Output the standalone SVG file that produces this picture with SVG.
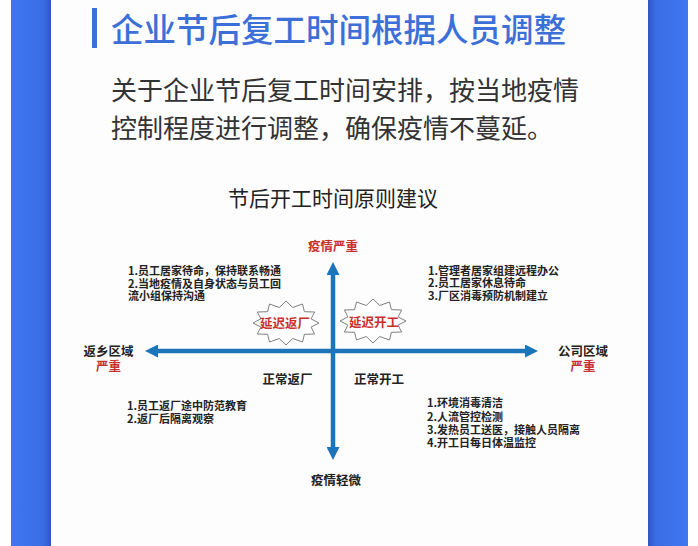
<svg xmlns="http://www.w3.org/2000/svg" width="698" height="546" viewBox="0 0 698 546">
<style>
.cjk{font-family:"Noto Sans CJK SC","Noto Sans",sans-serif}
.title{font-size:32.5px;fill:#3d6fd8;font-weight:500}
.sub{font-size:26px;fill:#333333}
.ctitle{font-size:21px;fill:#222222}
.q{font-size:11px;font-weight:700;fill:#222222}
.ax{font-size:12.5px;font-weight:700;fill:#222222}
.red{fill:#c8302e}
.star{fill:#ffffff;stroke:#7f7f7f;stroke-width:1}
.axis{stroke:#1c74b9;stroke-width:4.5;fill:none}
</style>
<defs>
<linearGradient id="gl" x1="0" y1="0" x2="1" y2="0">
<stop offset="0" stop-color="#3f77f1"/>
<stop offset="0.8" stop-color="#3a6de6"/>
<stop offset="1" stop-color="#2f56c2"/>
</linearGradient>
<linearGradient id="gr" x1="0" y1="0" x2="1" y2="0">
<stop offset="0" stop-color="#2f56c2"/>
<stop offset="0.2" stop-color="#3a6de6"/>
<stop offset="1" stop-color="#3f77f1"/>
</linearGradient>
<marker id="ah" markerUnits="userSpaceOnUse" markerWidth="14" markerHeight="13" refX="3" refY="6.5" orient="auto-start-reverse">
<path d="M0,0 L13,6.5 L0,13 z" fill="#1c74b9"/>
</marker>
<polygon id="starShape" points="0,-22 6.7,-15.5 16.5,-19 18.4,-11.3 28.6,-11 25.1,-4.1 33,0 25.1,4.1 28.6,11 18.4,11.3 16.5,19 6.7,15.5 0,22 -6.7,15.5 -16.5,19 -18.4,11.3 -28.6,11 -25.1,4.1 -33,0 -25.1,-4.1 -28.6,-11 -18.4,-11.3 -16.5,-19 -6.7,-15.5"/>
</defs>
<rect x="0" y="0" width="698" height="546" fill="#ffffff"/>
<rect x="51" y="0" width="597" height="546" fill="#fdfdfe"/>
<rect x="11" y="0" width="40" height="546" fill="url(#gl)"/>
<rect x="648" y="0" width="40" height="546" fill="url(#gr)"/>

<g id="header">
<rect x="92" y="8" width="5" height="40" fill="#3d6fd8"/>
<text class="cjk title" x="111" y="42">企业节后复工时间根据人员调整</text>
<text class="cjk sub" x="111" y="100">关于企业节后复工时间安排，按当地疫情</text>
<text class="cjk sub" x="111" y="138">控制程度进行调整，确保疫情不蔓延。</text>
</g>

<g id="chart-title">
<text class="cjk ctitle" x="333" y="206" text-anchor="middle">节后开工时间原则建议</text>
</g>

<g id="connectors">
<line class="axis" x1="333" y1="450" x2="333" y2="272" marker-start="url(#ah)" marker-end="url(#ah)"/>
<line class="axis" x1="155" y1="351" x2="528" y2="351" marker-start="url(#ah)" marker-end="url(#ah)"/>
</g>

<g id="axis-top">
<text class="cjk ax red" x="333" y="250.5" text-anchor="middle">疫情严重</text>
</g>
<g id="axis-bottom">
<text class="cjk ax" x="336" y="485" text-anchor="middle">疫情轻微</text>
</g>
<g id="axis-left">
<text class="cjk ax" x="108.5" y="355.5" text-anchor="middle">返乡区域</text>
<text class="cjk ax red" x="108.5" y="370.5" text-anchor="middle">严重</text>
</g>
<g id="axis-right">
<text class="cjk ax" x="583" y="355.5" text-anchor="middle">公司区域</text>
<text class="cjk ax red" x="583" y="370.5" text-anchor="middle">严重</text>
</g>

<g id="star-left">
<use href="#starShape" class="star" transform="translate(286,323)"/>
<text class="cjk ax red" x="285" y="327.5" text-anchor="middle" font-size="11.5">延迟返厂</text>
</g>
<g id="star-right">
<use href="#starShape" class="star" transform="translate(373,321)"/>
<text class="cjk ax red" x="374" y="326.5" text-anchor="middle" font-size="11.5">延迟开工</text>
</g>

<g id="label-normal-return">
<text class="cjk ax" x="287.5" y="384" text-anchor="middle">正常返厂</text>
</g>
<g id="label-normal-start">
<text class="cjk ax" x="379" y="384" text-anchor="middle">正常开工</text>
</g>

<g id="quad-top-left">
<text class="cjk q" x="128" y="275">1.员工居家待命，保持联系畅通</text>
<text class="cjk q" x="128" y="287.5">2.当地疫情及自身状态与员工回</text>
<text class="cjk q" x="128" y="300">流小组保持沟通</text>
</g>
<g id="quad-top-right">
<text class="cjk q" x="428" y="274.5">1.管理者居家组建远程办公</text>
<text class="cjk q" x="428" y="287">2.员工居家休息待命</text>
<text class="cjk q" x="428" y="299.5">3.厂区消毒预防机制建立</text>
</g>
<g id="quad-bottom-left">
<text class="cjk q" x="127" y="410">1.员工返厂途中防范教育</text>
<text class="cjk q" x="127" y="423">2.返厂后隔离观察</text>
</g>
<g id="quad-bottom-right">
<text class="cjk q" x="427" y="407">1.环境消毒清洁</text>
<text class="cjk q" x="427" y="420.5">2.人流管控检测</text>
<text class="cjk q" x="427" y="434">3.发热员工送医，接触人员隔离</text>
<text class="cjk q" x="427" y="447">4.开工日每日体温监控</text>
</g>
</svg>
